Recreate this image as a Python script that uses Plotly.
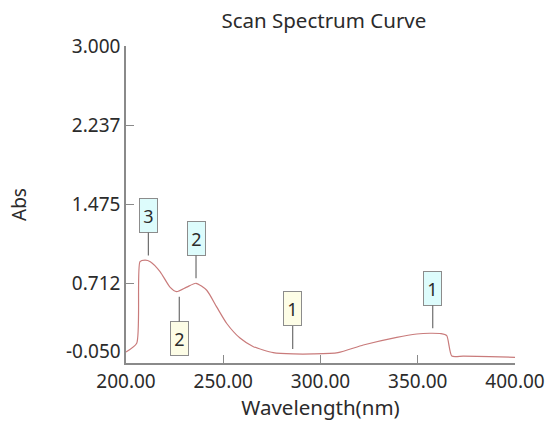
import plotly.graph_objects as go

# Spectrum curve
wavelength = [200, 205.5, 207.2, 209.8, 212.5, 217.5, 222.6, 226, 231.2, 236, 241.5, 246.6,
              251.8, 258.6, 265.5, 275.7, 286, 296.3, 309, 322, 339.2, 349.5, 356.3, 362,
              364.9, 367.5, 373.4, 387, 400]
absorbance = [0.056, 0.14, 0.925, 0.94, 0.925, 0.83, 0.68, 0.636, 0.68, 0.717, 0.65, 0.49,
              0.33, 0.19, 0.107, 0.05, 0.037, 0.037, 0.05, 0.123, 0.197, 0.229, 0.236, 0.232,
              0.213, 0.017, 0.017, 0.011, 0.005]

# Peak / valley markers
mark_wl = [211.5, 236, 227.4, 285.7, 357.7]
mark_abs = [0.935, 0.717, 0.636, 0.037, 0.236]
mark_text = ["3", "2", "2", "1", "1"]
mark_kind = ["peak", "peak", "valley", "valley", "peak"]
mark_side = ["up", "up", "down", "up", "up"]

y_tickvals = [-0.05, 0.712, 1.475, 2.237, 3.0]
y_ticktext = ["-0.050", "0.712", "1.475", "2.237", "3.000"]
x_tickvals = [200, 250, 300, 350, 400]
x_ticktext = ["200.00", "250.00", "300.00", "350.00", "400.00"]

FONT = "Noto Sans"
TXT = "#2b2b2b"
AX = "#8a8a8a"

fig = go.Figure()
fig.add_trace(go.Scatter(x=wavelength, y=absorbance, mode="lines",
                         line=dict(color="#c97b7b", width=1.2, shape="spline", smoothing=0.6),
                         hoverinfo="skip", showlegend=False))

for wl, ab, t, k, s in zip(mark_wl, mark_abs, mark_text, mark_kind, mark_side):
    fig.add_annotation(x=wl, y=ab, text=t, showarrow=True, arrowhead=0, arrowwidth=1.2,
                       arrowcolor="#6e6e6e", ax=0, ay=(-45 if s == "up" else 47),
                       standoff=5, bgcolor=("#ddfcfc" if k == "peak" else "#fdfde6"),
                       bordercolor="#8c8c8c", borderwidth=1, borderpad=0,
                       width=17, height=33, font=dict(family=FONT, size=18, color=TXT))

# lowest y tick label is drawn raised above the x axis (as in the original)
shown_ticktext = [t if v != min(y_tickvals) else "" for v, t in zip(y_tickvals, y_ticktext)]
fig.add_annotation(x=0, xref="paper", y=min(y_tickvals), yref="y",
                   text=y_ticktext[y_tickvals.index(min(y_tickvals))],
                   showarrow=False, xanchor="right", yanchor="middle", xshift=-3, yshift=12,
                   font=dict(family=FONT, size=19, color=TXT))

fig.update_layout(
    width=548, height=421,
    margin=dict(l=126, r=33, t=46, b=58),
    paper_bgcolor="white", plot_bgcolor="white",
    font=dict(family=FONT, size=16, color=TXT),
    title=dict(text="Scan Spectrum Curve", x=0.591, xanchor="center", y=0.95,
               yanchor="middle", yref="container", automargin=False,
               font=dict(family=FONT, size=20.5, color=TXT)),
    xaxis=dict(range=[200, 400], tickvals=x_tickvals, ticktext=x_ticktext, automargin=False,
               showgrid=False, zeroline=False, showline=True, linecolor=AX, linewidth=1.5,
               ticks="inside", ticklen=8, tickcolor=AX, tickwidth=1.2,
               tickfont=dict(size=19, color=TXT),
               title=dict(text="Wavelength(nm)", font=dict(size=20.5, color=TXT), standoff=10)),
    yaxis=dict(range=[-0.05, 3.0], tickvals=y_tickvals, ticktext=shown_ticktext, automargin=False,
               showgrid=False, zeroline=False, showline=True, linecolor=AX, linewidth=1.5,
               ticks="inside", ticklen=8, tickcolor=AX, tickwidth=1.2,
               tickfont=dict(size=19, color=TXT),
               title=dict(text="Abs", font=dict(size=19, color=TXT), standoff=40)),
)

fig.write_html("out.html")
